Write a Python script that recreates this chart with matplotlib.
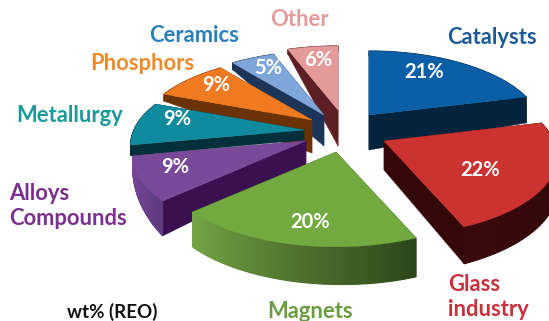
import numpy as np
import matplotlib
matplotlib.use("Agg")
import matplotlib.pyplot as plt
from matplotlib.colors import to_rgb
from matplotlib.patches import Polygon

plt.rcParams['font.family'] = ['Lato', 'DejaVu Sans']

categories = ["Catalysts", "Glass\nindustry", "Magnets", "Alloys\nCompounds",
              "Metallurgy", "Phosphors", "Ceramics", "Other"]
values = [21, 22, 20, 9, 9, 9, 5, 6]

# styles, one entry per slice
top_colors = ["#0a5fa6", "#cc3330", "#72aa40", "#7a4a9a", "#0f8a9e", "#f07a20", "#7ea6d8", "#e59a9a"]
radial_colors = ["#04233c", "#340809", "#2c4a1c", "#3a1050", "#03303a", "#6b3208", "#1c3458", "#5c1f24"]
arc_colors_a = ["#04233c", "#3a0a0c", "#76a545", "#7a4a9a", "#03303a", "#6b3208", "#1c3458", "#5c1f24"]
arc_colors_b = ["#04233c", "#2a0708", "#2c451a", "#5e3a80", "#03303a", "#6b3208", "#1c3458", "#5c1f24"]
label_colors = ["#1f5a96", "#c8303c", "#6c9c42", "#7b2f8e", "#1a9a98", "#ee8a2a", "#2a80b8", "#e59a9a"]
apexes = [(369, 115), (384, 141), (336, 152), (306, 141), (304, 130), (312, 120), (324, 115), (338, 110)]
depth_apex = [35, 29, 10, 24, 10, 33, 31, 36]
depth_start = [5, 30, 39, 35, 11, 7, 7, 5]   # outer point where the slice begins
depth_end = [26, 37, 35, 11, 7, 5, 5, 5]     # outer point where the slice ends
edge_nudge = [0, -0.8, -4, -2.5, -2.5, -2.5, -1, -1, 0]  # perspective correction, degrees
pct_pos = [(424, 72), (480, 170), (310, 222), (175, 167), (177, 119), (216, 85), (268, 68), (318, 60)]
label_pos = [(492, 37, "center"), (448, 297, "left"), (310, 311, "center"), (9, 206, "left"),
             (70, 116, "center"), (142, 64, "center"), (194, 36, "center"), (299, 20, "center")]
draw_order = [7, 6, 5, 4, 3, 0, 2, 1]

A, B, K = 170.0, 76.4, 0.194

fig = plt.figure(figsize=(5.49, 3.21), dpi=100)
ax = fig.add_axes([0, 0, 1, 1])
ax.set_xlim(0, 549)
ax.set_ylim(321, 0)
ax.axis("off")

total = sum(values)
edges = 90 - np.cumsum([0] + values) * 360.0 / total + np.array(edge_nudge)


def project(apex, ang_deg):
    t = np.radians(ang_deg)
    u, v = np.cos(t), np.sin(t)
    w = 1 + K * v
    return apex[0] + A * u / w, apex[1] - B * v / w


def quad(p1, p2, d1, d2, color, z, lw=0.3):
    ax.add_patch(Polygon([p1, p2, (p2[0], p2[1] + d2), (p1[0], p1[1] + d1)],
                         closed=True, facecolor=color, edgecolor=color, lw=lw, zorder=z))


for rank, i in enumerate(draw_order):
    a0, a1 = edges[i], edges[i + 1]
    apex = apexes[i]
    z = 2 + rank
    angs = np.linspace(a0, a1, 60)
    arc = [project(apex, a) for a in angs]
    ds = np.linspace(depth_start[i], depth_end[i], len(angs))
    # radial walls
    quad(apex, arc[-1], depth_apex[i], ds[-1], radial_colors[i], z)
    quad(apex, arc[0], depth_apex[i], ds[0], radial_colors[i], z)
    # outer wall, shaded along the arc, on a solid base so no gaps show
    ca, cb = np.array(to_rgb(arc_colors_a[i])), np.array(to_rgb(arc_colors_b[i]))
    base = list(arc) + [(p[0], p[1] + d) for p, d in zip(arc[::-1], ds[::-1])]
    ax.add_patch(Polygon(base, closed=True, facecolor=tuple((ca + cb) / 2), edgecolor="none", zorder=z))
    for k in range(len(arc) - 1):
        f = k / (len(arc) - 2)
        col = tuple(cb + (ca - cb) * f)
        quad(arc[k], arc[k + 1], ds[k], ds[k + 1], col, z, lw=0.8)
    # top face
    ax.add_patch(Polygon([apex] + arc, closed=True, facecolor=top_colors[i],
                         edgecolor=top_colors[i], lw=0.3, zorder=z))

for cat, val, pp, lp, lc in zip(categories, values, pct_pos, label_pos, label_colors):
    ax.text(pp[0], pp[1], f"{val}%", color="white", fontsize=14.5, fontweight="bold",
            ha="center", va="center", zorder=30)
    ax.text(lp[0], lp[1], cat, color=lc, fontsize=15.8, fontweight="bold",
            ha=lp[2], va="center", linespacing=1.27, zorder=30)

ax.text(112, 312, "wt% (REO)", color="#111111", fontsize=13.5, fontweight="bold",
        ha="center", va="center", zorder=30)

fig.savefig("out.png", dpi=100, facecolor="white")
